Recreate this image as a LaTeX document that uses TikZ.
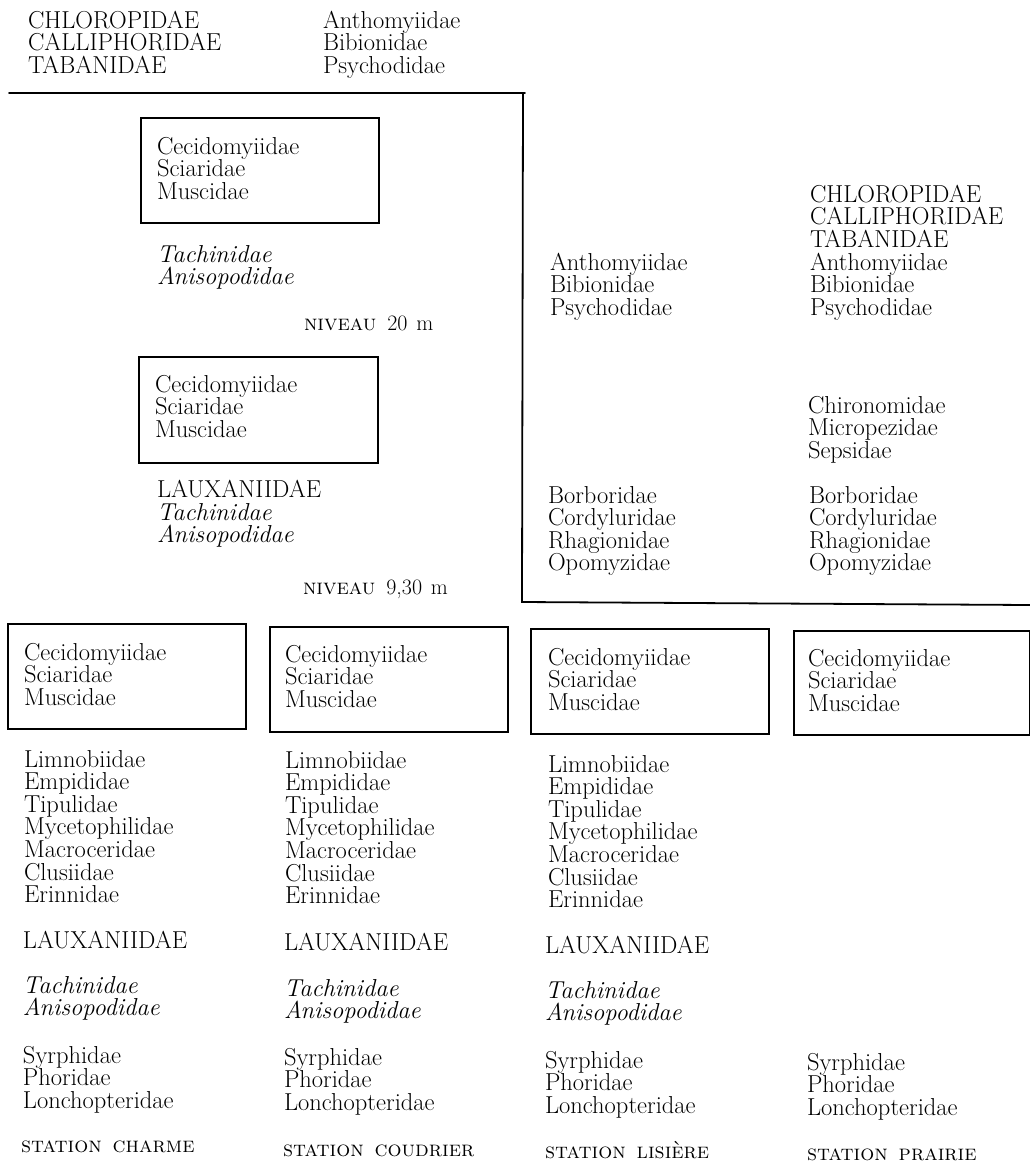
\documentclass[tikz,border=0pt]{standalone}
\usetikzlibrary{calc}
\newcommand\famfont{\fontsize{24.5}{22.6}\selectfont}
\newcommand\scfont{\fontsize{22}{22.6}\selectfont}
\tikzset{
  fam/.style={anchor=base west, inner sep=0pt, outer sep=0pt, align=left, font=\famfont},
  famit/.style={fam, font=\famfont\itshape},
  famsc/.style={fam, font=\scfont},
  boxst/.style={draw, line width=1.6pt, anchor=north west, inner sep=0pt},
  rulest/.style={line width=1.8pt, line cap=round}
}
\begin{document}
\begin{tikzpicture}[x=1pt,y=-1pt]
\fill[white] (0,0) rectangle (1030,1163);
\useasboundingbox (0,0) rectangle (1030,1163);

% ---- rules
\coordinate (r1) at (9,93);
\coordinate (r2) at (525,93);
\coordinate (r3) at (523,93);
\coordinate (r4) at (522,602);
\coordinate (r5) at (1030,605);
\draw[rulest] (r1) -- (r2);
\draw[rulest] (r3) -- (r4) -- (r5);

% ---- top left (anchor = baseline of last line)
\node[fam] (tla) at (28,73.2) {CHLOROPIDAE\\CALLIPHORIDAE\\TABANIDAE};
\node[fam] (tlb) at (323,73.2) {Anthomyiidae\\Bibionidae\\Psychodidae};

% ---- level 20 m
\node[boxst, minimum width=238pt, minimum height=105pt] (bxA) at (140,117) {};
\node[fam] (bxAt) at (157,199.2) {Cecidomyiidae\\Sciaridae\\Muscidae};
\node[famit] (itA) at (157,284.6) {Tachinidae\\Anisopodidae};
\node[famsc] (niv20) at (304,330) {\textsc{niveau}\hspace{0.5em}20\hspace{0.4em}m};

% ---- level 9,30 m
\node[boxst, minimum width=239pt, minimum height=106pt] (bxB) at (138,356) {};
\node[fam] (bxBt) at (155,437.2) {Cecidomyiidae\\Sciaridae\\Muscidae};
\node[fam] (lxB) at (157,542.6) {LAUXANIIDAE\\\textit{Tachinidae}\\\textit{Anisopodidae}};
\node[famsc] (niv9) at (303,594) {\textsc{niveau}\hspace{0.5em}9,30\hspace{0.4em}m};

% ---- right upper
\node[fam] (ruA) at (550,315.2) {Anthomyiidae\\Bibionidae\\Psychodidae};
\node[fam] (ruB) at (810,315.2) {CHLOROPIDAE\\CALLIPHORIDAE\\TABANIDAE\\Anthomyiidae\\Bibionidae\\Psychodidae};
\node[fam] (ruC) at (808,458.2) {Chironomidae\\Micropezidae\\Sepsidae};
\node[fam] (ruD) at (548,570.8) {Borboridae\\Cordyluridae\\Rhagionidae\\Opomyzidae};
\node[fam] (ruE) at (809,570.8) {Borboridae\\Cordyluridae\\Rhagionidae\\Opomyzidae};

% ---- bottom boxes
\node[boxst, minimum width=238pt, minimum height=105pt] (bx1) at (7,623) {};
\node[boxst, minimum width=238pt, minimum height=105pt] (bx2) at (269,626) {};
\node[boxst, minimum width=238pt, minimum height=105pt] (bx3) at (530,628) {};
\node[boxst, minimum width=236pt, minimum height=104pt] (bx4) at (793,630) {};
\node[fam] (bx1t) at (24,705.2) {Cecidomyiidae\\Sciaridae\\Muscidae};
\node[fam] (bx2t) at (285,707.2) {Cecidomyiidae\\Sciaridae\\Muscidae};
\node[fam] (bx3t) at (548,710.2) {Cecidomyiidae\\Sciaridae\\Muscidae};
\node[fam] (bx4t) at (808,711.2) {Cecidomyiidae\\Sciaridae\\Muscidae};

% ---- bottom lists
\node[fam] (l1) at (24,902.6) {Limnobiidae\\Empididae\\Tipulidae\\Mycetophilidae\\Macroceridae\\Clusiidae\\Erinnidae};
\node[fam] (l2) at (285,903.6) {Limnobiidae\\Empididae\\Tipulidae\\Mycetophilidae\\Macroceridae\\Clusiidae\\Erinnidae};
\node[fam] (l3) at (548,907.6) {Limnobiidae\\Empididae\\Tipulidae\\Mycetophilidae\\Macroceridae\\Clusiidae\\Erinnidae};

\node[fam] (lx1) at (23,948) {LAUXANIIDAE};
\node[fam] (lx2) at (284,950) {LAUXANIIDAE};
\node[fam] (lx3) at (545,953) {LAUXANIIDAE};

\node[famit] (it1) at (23,1015.6) {Tachinidae\\Anisopodidae};
\node[famit] (it2) at (284,1018.6) {Tachinidae\\Anisopodidae};
\node[famit] (it3) at (545,1020.6) {Tachinidae\\Anisopodidae};

\node[fam] (sy1) at (23,1108.2) {Syrphidae\\Phoridae\\Lonchopteridae};
\node[fam] (sy2) at (284,1110.2) {Syrphidae\\Phoridae\\Lonchopteridae};
\node[fam] (sy3) at (545,1113.2) {Syrphidae\\Phoridae\\Lonchopteridae};
\node[fam] (sy4) at (807,1115.2) {Syrphidae\\Phoridae\\Lonchopteridae};

\node[famsc] (st1) at (21,1152) {\textsc{station\hspace{0.5em}charme}};
\node[famsc] (st2) at (283,1156) {\textsc{station\hspace{0.5em}coudrier}};
\node[famsc] (st3) at (545,1158) {\textsc{station\hspace{0.5em}lisière}};
\node[famsc] (st4) at (807,1160) {\textsc{station\hspace{0.5em}prairie}};
\end{tikzpicture}
\end{document}
